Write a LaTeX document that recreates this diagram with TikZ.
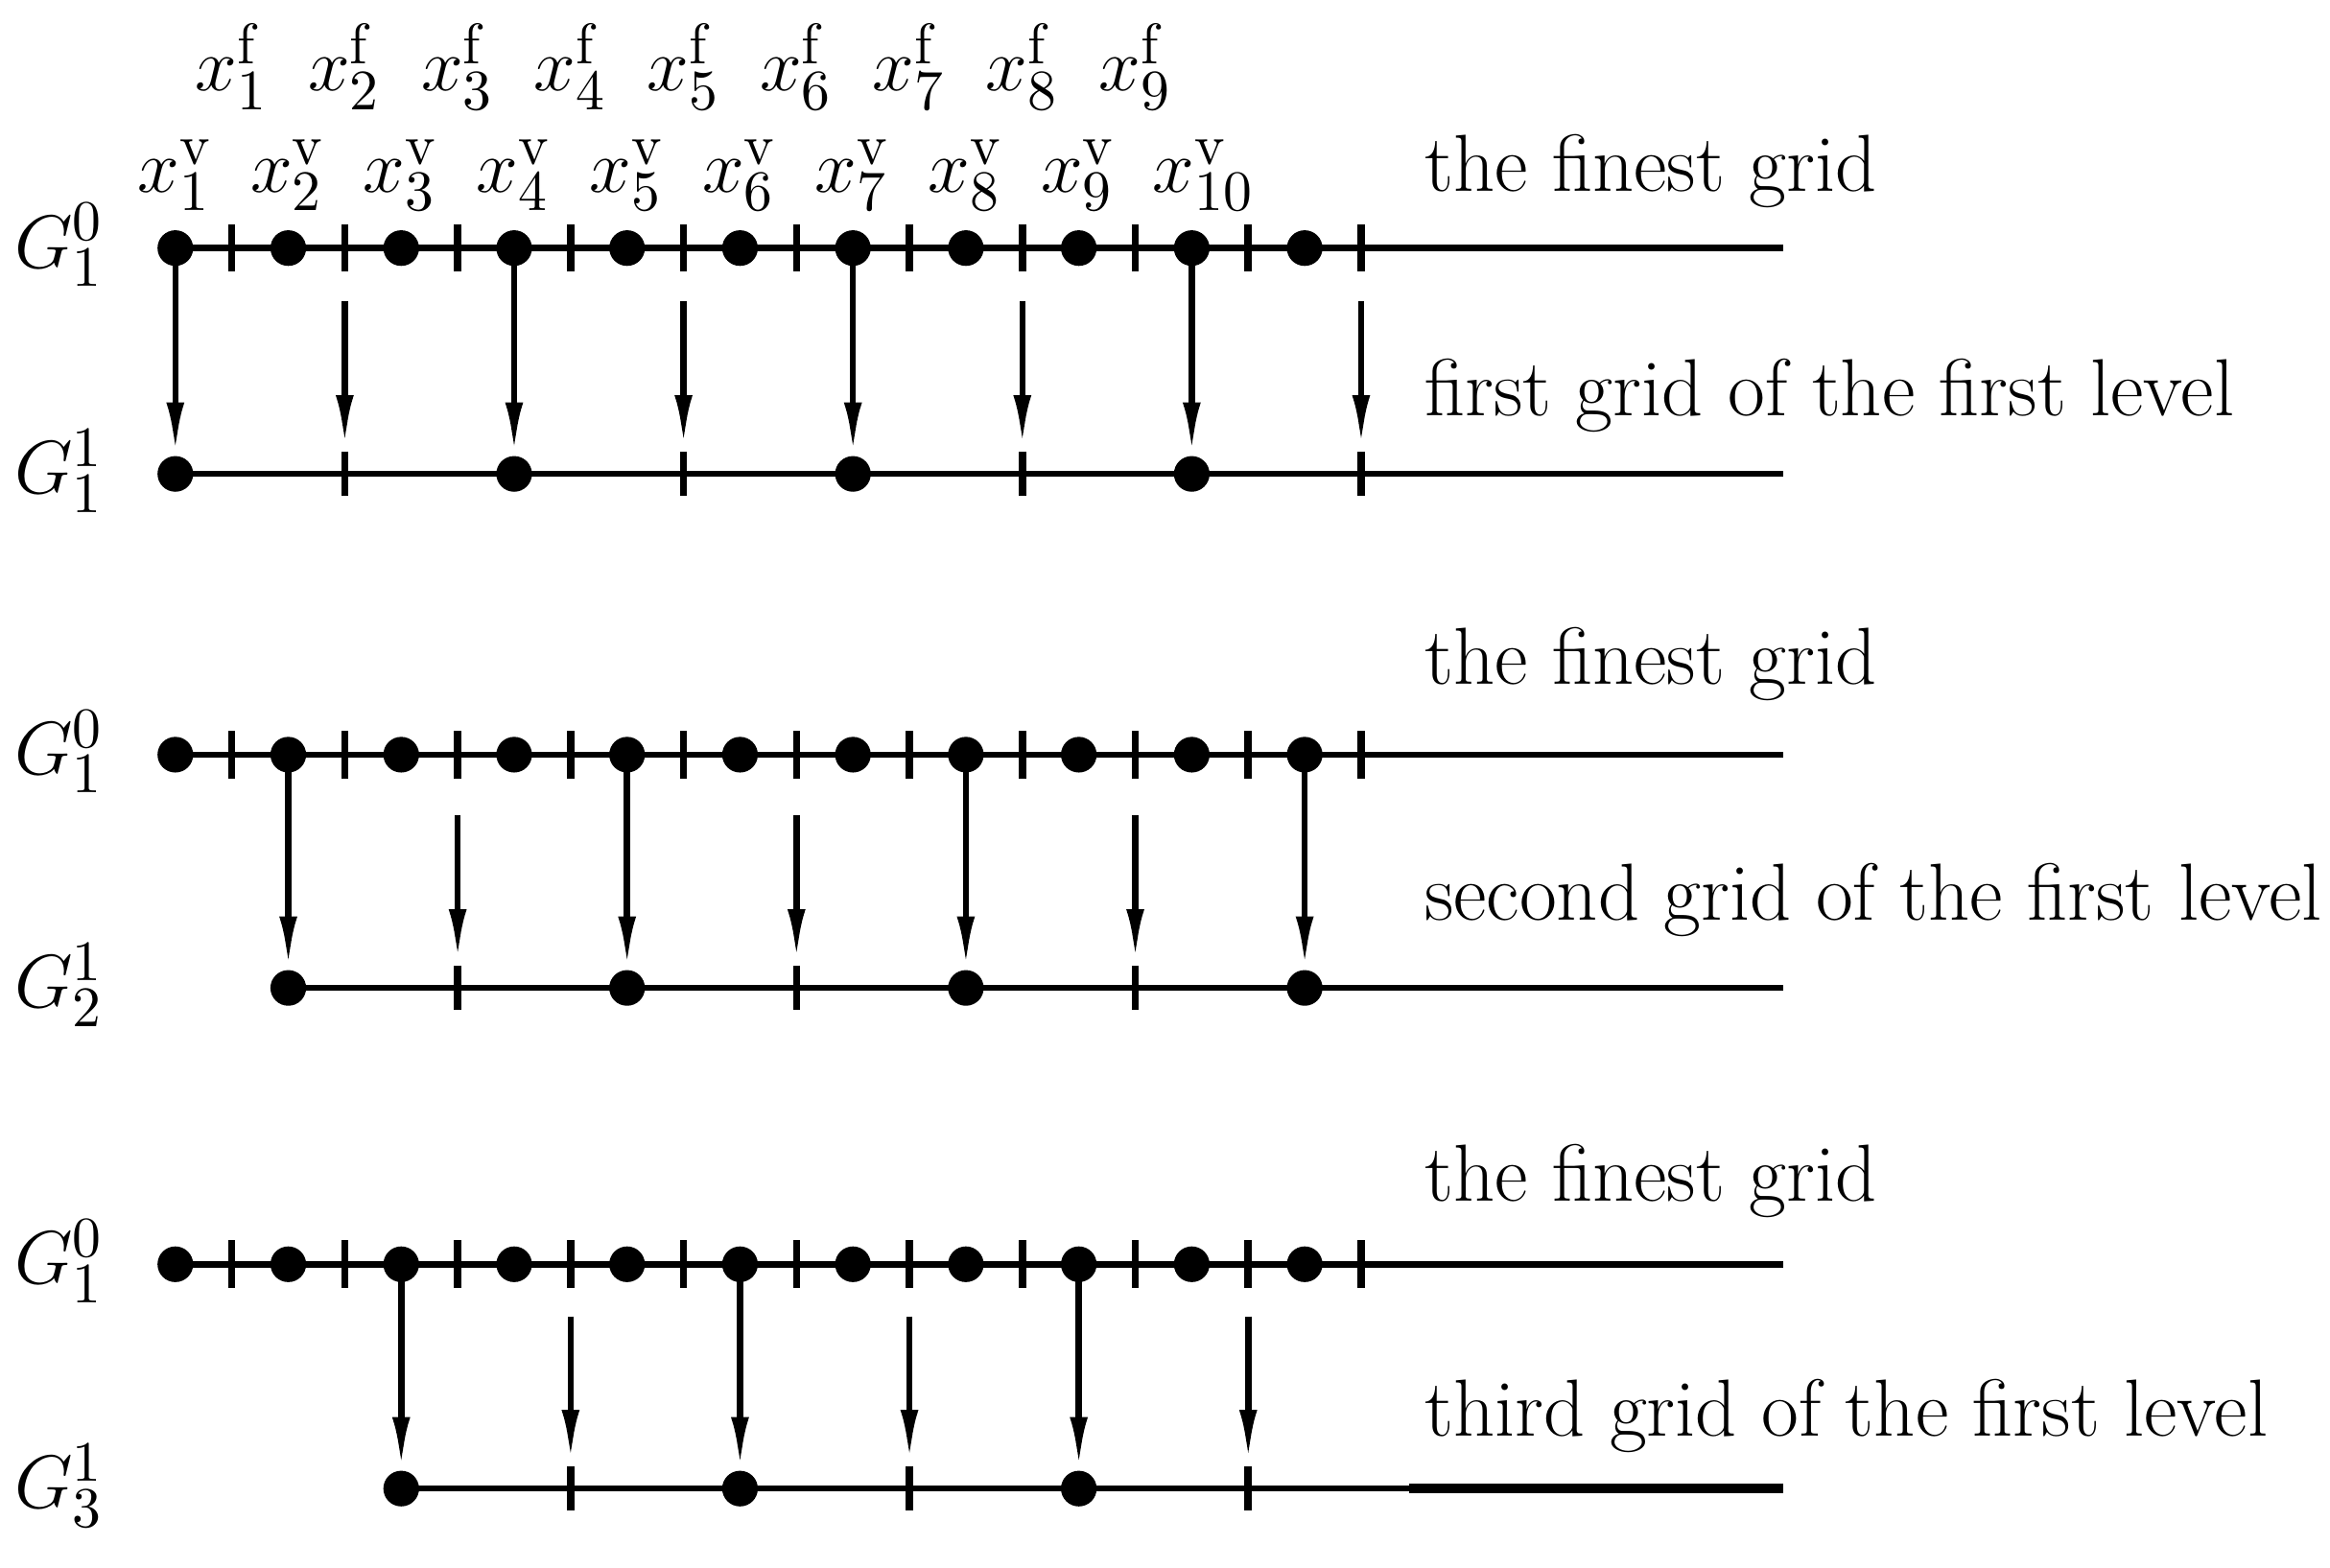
\documentclass[tikz,border=0pt]{standalone}
\usetikzlibrary{arrows.meta}
\begin{document}
\begin{tikzpicture}[x=0.01cm,y=-0.01cm,line width=1.2pt,
  dot/.style={circle,fill=black,inner sep=0pt,minimum width=0.22cm,minimum height=0.24cm},
  arr/.style={-{Latex[length=0.34cm,width=0.12cm]}},
  lbl/.style={font=\fontsize{15.5}{18}\selectfont,anchor=west},
  glab/.style={font=\fontsize{15}{18}\selectfont}]
\useasboundingbox (0,0) rectangle (1568,1055);
% labels on top
\foreach \i in {1,...,9} \node[glab] (xf\i) at ({156+76*(\i-1)},45) {$x^{\mathrm{f}}_{\i}$};
\foreach \i in {1,...,10} \node[glab] (xv\i) at ({118+76*(\i-1)+(\i==10?8:0)},118) {$x^{\mathrm{v}}_{\i}$};
% three blocks
\foreach \b/\yt in {1/167, 2/508, 3/851} {
  \draw (118,\yt) coordinate (s\b) -- (1200,\yt) coordinate (e\b);
  \foreach \k in {1,...,11} \node[dot] (d\b-\k) at ({118+76*(\k-1)},\yt) {};
  \foreach \k in {1,...,11} \draw[line width=1.4pt] ({156+76*(\k-1)},\yt-16) -- ({156+76*(\k-1)},\yt+16);
}
\node[glab] (g01) at (40,165) {$G^0_1$};
\node[glab] (g11) at (40,317) {$G^1_1$};
\node[glab] (g02) at (40,506) {$G^0_1$};
\node[glab] (g12) at (40,663) {$G^1_2$};
\node[glab] (g03) at (40,849) {$G^0_1$};
\node[glab] (g13) at (40,1000) {$G^1_3$};
\node[lbl] (t1) at (945,115) {the finest grid};
\node[lbl] (t2) at (945,266) {first grid of the first level};
\node[lbl] (t3) at (945,447) {the finest grid};
\node[lbl] (t4) at (945,606) {second grid of the first level};
\node[lbl] (t5) at (945,795) {the finest grid};
\node[lbl] (t6) at (945,953) {third grid of the first level};
% block 1
\draw (118,319) -- (1200,319);
\foreach \k/\x in {1/118,4/346,7/574,10/802} {
  \node[dot] (c1-\k) at (\x,319) {};
  \draw[arr] (d1-\k.center) -- (c1-\k.north);
}
\foreach \x in {232,460,688,916} {
  \coordinate (a) at (\x,203); \coordinate (b) at (\x,300);
  \draw[arr] (a) -- (b);
  \draw[line width=1.4pt] (\x,304) -- (\x,334);
}
% block 2
\draw (194,665) -- (1200,665);
\foreach \k/\x in {2/194,5/422,8/650,11/878} {
  \node[dot] (c2-\k) at (\x,665) {};
  \draw[arr] (d2-\k.center) -- (c2-\k.north);
}
\foreach \x in {308,536,764} {
  \coordinate (a) at (\x,549); \coordinate (b) at (\x,646);
  \draw[arr] (a) -- (b);
  \draw[line width=1.4pt] (\x,650) -- (\x,680);
}
% block 3
\draw (270,1002) -- (1200,1002);
\draw[line width=1.8pt] (948,1002) -- (1200,1002);
\foreach \k/\x in {3/270,6/498,9/726} {
  \node[dot] (c3-\k) at (\x,1002) {};
  \draw[arr] (d3-\k.center) -- (c3-\k.north);
}
\foreach \x in {384,612,840} {
  \coordinate (a) at (\x,886); \coordinate (b) at (\x,983);
  \draw[arr] (a) -- (b);
  \draw[line width=1.4pt] (\x,987) -- (\x,1017);
}
\end{tikzpicture}
\end{document}
